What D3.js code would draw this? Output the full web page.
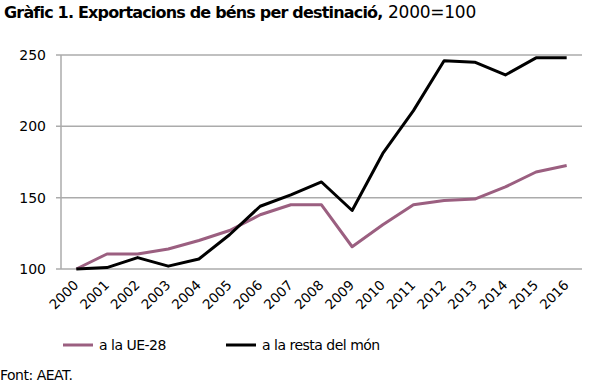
<!DOCTYPE html>
<html><head><meta charset="utf-8">
<script src="https://cdn.jsdelivr.net/npm/d3@7/dist/d3.min.js"></script>
<style>body{margin:0;background:#fff}svg{display:block}</style>
</head><body>
<script>
const years = ["2000","2001","2002","2003","2004","2005","2006","2007","2008","2009","2010","2011","2012","2013","2014","2015","2016"];
const ue28 = [100,110.5,110.5,114,120,127,138,145,145,115.6,131,145,148,149,157.5,168,172.5];
const restaMon = [100,101,108,102,107,124,144,152,161,141,181,211,246,245,236,248,248];
const yTicks = [100,150,200,250];
const seriesNames = ["a la UE-28","a la resta del món"];
const seriesColors = ["#9b5f80","#000000"];

const W=600,H=383;
const svg=d3.select("body").append("svg").attr("width",W).attr("height",H);
const font="DejaVu Sans";
const m={l:61,r:582,t:55,b:269};
const x=d3.scaleBand().domain(years).range([m.l,m.r]);
const y=d3.scaleLinear().domain([100,250]).range([m.b,m.t]);

// title: condensed by letter-spacing to fit target widths
function fitText(sel,target){
  const n=sel.text().length;
  const L=sel.node().getComputedTextLength();
  sel.attr("letter-spacing",((target-L)/n).toFixed(2));
}
const t1=svg.append("text").attr("x",4).attr("y",18).attr("font-family",font)
  .attr("font-weight","bold").attr("font-size",16).attr("fill","#000")
  .text("Gràfic 1. Exportacions de béns per destinació,");
fitText(t1,378);
const t2=svg.append("text").attr("x",388).attr("y",18).attr("font-family",font)
  .attr("font-size",17).attr("fill","#000").text("2000=100");
fitText(t2,88);

// grid
svg.append("g").selectAll("line").data(yTicks).join("line")
  .attr("x1",m.l-5).attr("x2",m.r).attr("y1",d=>y(d)).attr("y2",d=>y(d))
  .attr("stroke","#ababab").attr("stroke-width",1.5);
svg.append("line").attr("x1",m.l).attr("x2",m.l).attr("y1",m.t).attr("y2",m.b)
  .attr("stroke","#ababab").attr("stroke-width",1.5);

// y labels
svg.append("g").selectAll("text").data(yTicks).join("text")
  .attr("x",46).attr("y",d=>y(d)+5).attr("text-anchor","end")
  .attr("font-family",font).attr("font-size",14).attr("fill","#000").text(d=>d);

// x labels
svg.append("g").selectAll("text").data(years).join("text")
  .attr("transform",d=>`translate(${x(d)+x.bandwidth()/2+3},${m.b+17}) rotate(-45)`)
  .attr("text-anchor","end").attr("font-family",font).attr("font-size",13.5).attr("fill","#000").text(d=>d);

const line=d3.line().x((d,i)=>x(years[i])+x.bandwidth()/2).y(d=>y(d));
[ue28,restaMon].forEach((s,i)=>{
  svg.append("path").attr("d",line(s)).attr("fill","none").attr("stroke",seriesColors[i])
    .attr("stroke-width",3).attr("stroke-linejoin","round");
});

// legend
const lg=[{x:63,t:99},{x:226,t:262}];
seriesNames.forEach((n,i)=>{
  svg.append("line").attr("x1",lg[i].x).attr("x2",lg[i].x+30).attr("y1",345).attr("y2",345)
    .attr("stroke",seriesColors[i]).attr("stroke-width",3);
  svg.append("text").attr("x",lg[i].t).attr("y",350).attr("font-family",font).attr("font-size",14)
    .attr("letter-spacing",-0.5).attr("fill","#000").text(n);
});

svg.append("text").attr("x",0).attr("y",380).attr("font-family",font).attr("font-size",14)
  .attr("letter-spacing",-0.5).attr("fill","#000").text("Font: AEAT.");
</script>
</body></html>
